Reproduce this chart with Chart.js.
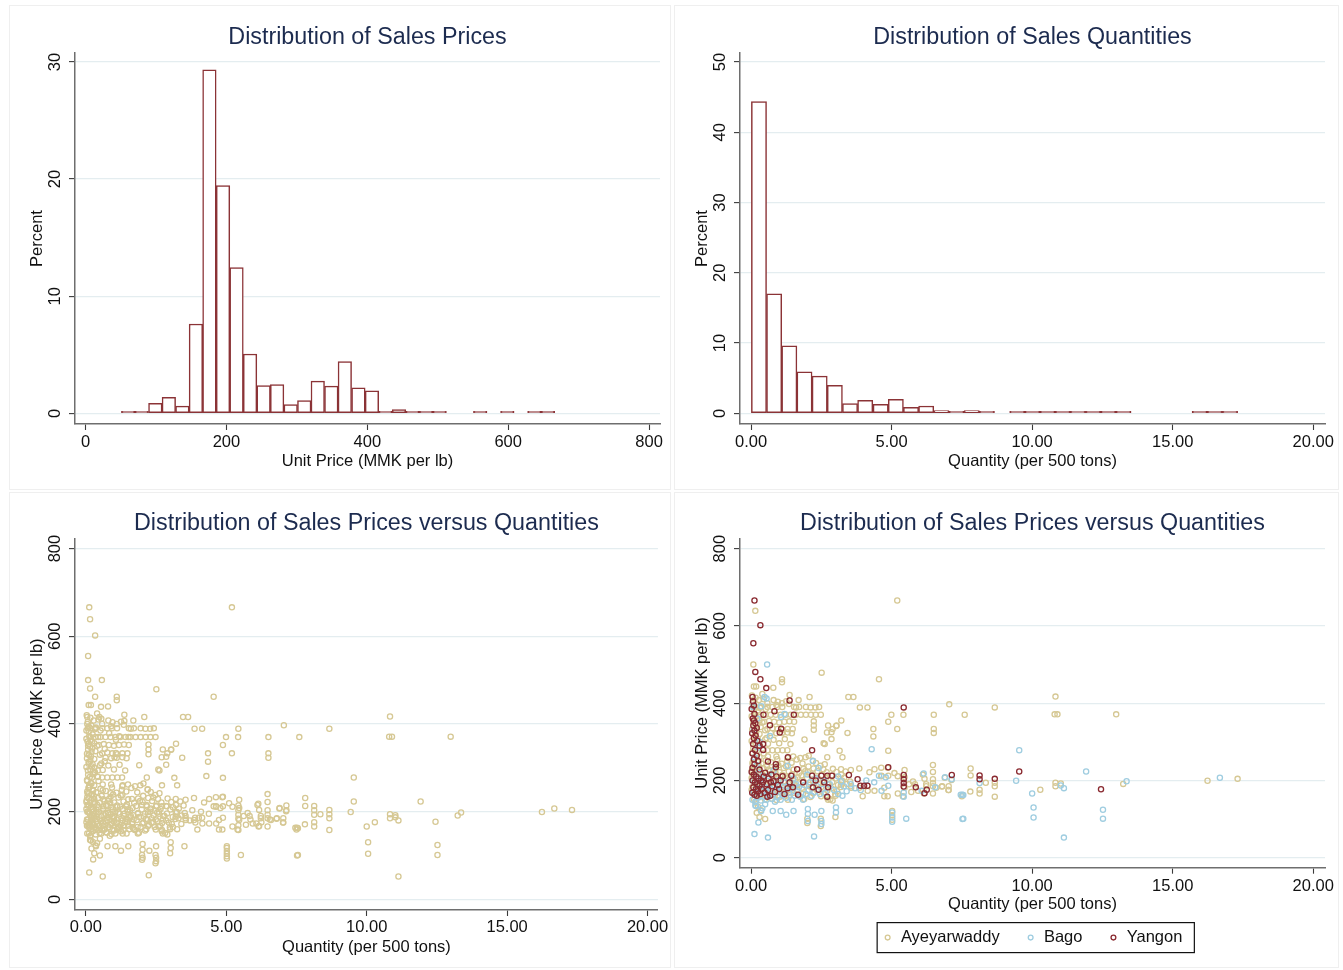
<!DOCTYPE html>
<html>
<head>
<meta charset="utf-8">
<title>Sales prices and quantities</title>
<script src="https://cdn.jsdelivr.net/npm/chart.js@4.4.0/dist/chart.umd.min.js"></script>
<style>
  body { margin: 0; background: #fff; width: 1343px; height: 970px; position: relative; overflow: hidden; }
  .frame { position: absolute; border: 1px solid #efefef; box-sizing: border-box; }
  canvas { position: absolute; }
</style>
</head>
<body>
<div class="frame" style="left:9px;top:5px;width:662px;height:485px"></div>
<div class="frame" style="left:674px;top:5px;width:665px;height:485px"></div>
<div class="frame" style="left:9px;top:492px;width:662px;height:476px"></div>
<div class="frame" style="left:674px;top:492px;width:665px;height:476px"></div>
<canvas id="c1" width="661" height="484" style="left:9px;top:5px;width:661px;height:484px"></canvas>
<canvas id="c2" width="664" height="484" style="left:674px;top:5px;width:664px;height:484px"></canvas>
<canvas id="c3" width="661" height="476" style="left:9px;top:492px;width:661px;height:476px"></canvas>
<canvas id="c4" width="664" height="476" style="left:674px;top:492px;width:664px;height:476px"></canvas>
<script>
/* ── Data ──────────────────────────────────────────────── */
// histogram of unit price: bin centres (MMK per lb) and percent of sales
const priceBins = [60.6, 79.8, 99.1, 118.3, 137.5, 156.7, 175.9, 195.2, 214.4, 233.6, 252.8, 272.0, 291.3, 310.5, 329.7, 348.9,
    368.1, 387.4, 406.6, 425.8, 445.0, 464.2, 483.5, 502.7, 521.9, 541.1, 560.3, 579.6, 598.8, 618.0, 637.2, 656.4];
const pricePct = [0.12, 0.05, 0.85, 1.37, 0.62, 7.63, 29.32, 19.44, 12.44, 5.07, 2.37, 2.45, 0.75, 1.1, 2.75, 2.33,
    4.41, 2.17, 1.92, 0.03, 0.33, 0.15, 0.04, 0.04, null, null, 0.1, null, 0.1, null, 0.1, 0.05];

// histogram of quantity: bin centres (per 500 tons) and percent of sales
const qtyBins = [0.28, 0.82, 1.36, 1.90, 2.44, 2.98, 3.52, 4.06, 4.61, 5.15, 5.69, 6.23, 6.77, 7.31, 7.85, 8.39,
    8.93, 9.47, 10.01, 10.55, 11.09, 11.63, 12.17, 12.71, 13.25, 13.80, 14.34, 14.88, 15.42, 15.96, 16.50, 17.04];
const qtyPct = [44.35, 17.0, 9.6, 5.9, 5.3, 4.0, 1.37, 1.85, 1.28, 2.0, 0.85, 1.04, 0.38, 0.19, 0.38, 0.24,
    null, 0.05, 0.14, 0.19, 0.14, 0.05, 0.05, 0.05, 0.1, null, null, null, null, 0.05, 0.05, 0.05];

const priceTicks = [0, 200, 400, 600, 800];
const qtyTicks = [0, 5, 10, 15, 20];
const pricePctTicks = [0, 10, 20, 30];
const qtyPctTicks = [0, 10, 20, 30, 40, 50];

const regions = ['Ayeyarwaddy', 'Bago', 'Yangon'];

// [quantity, unit price] per sale
const ayeyarwaddyPts = [
    [0.15,639],[5.2,666],[0.08,500],[2.51,479],[4.55,462],[1.1,462],[1.1,454],[0.79,440],[0.1,443],[0.18,443],
    [0.4,424],[1.37,421],[1.69,408],[2.08,416],[3.46,416],[3.64,416],[3.87,389],[4.14,389],[4.99,370],[5.42,370],
    [6.5,370],[7.6,370],[7.05,397],[4.88,352],[4.35,333],[4.35,314],[5.2,333],[6.5,333],[6.5,323],[3.43,323],
    [2.74,342],[2.86,325],[3.04,342],[3.21,355],[2.62,294],[2.86,307],[1.9,306],[2.23,342],[2.23,331],[2.23,353],
    [3.15,277],[3.25,260],[2.71,260],[4.88,277],[1.94,260],[2.2,251],[2.58,296],[2.7,324],[2.9,333],[3.03,341],
    [3.2,229],[3.55,227],[3.85,231],[4.21,221],[4.39,229],[4.63,233],[4.86,233],[4.63,211],[5.1,219],[5.22,211],
    [5.46,227],[5.46,208],[5.76,197],[6.11,215],[6.17,204],[3.2,189],[3.55,185],[3.85,181],[4.15,173],[4.39,173],
    [4.74,181],[4.86,159],[5.22,166],[5.46,181],[5.7,170],[5.94,173],[6.15,166],[3.97,159],[4.74,159],[5.4,159],
    [2.7,155],[2.82,151],[5.62,190],[5.83,190],[6.23,190],[6.79,184],[7.02,175],[4.64,212],[4.88,212],
    [0.16,143],[0.25,131],[0.35,123],[0.2,116],[0.3,105],[0.5,100],[2.0,101],[2.48,101],[2.48,82],[3.0,105],
    [2.0,90],[5.02,121],[5.02,110],[5.02,98],[3.0,160],[2.9,148],
    [6.47,240],[6.47,222],[6.47,203],[6.47,193],[6.47,185],[6.47,166],[6.23,185],[6.59,181],[6.8,185],[6.89,207],
    [7.13,201],[7.03,185],[7.03,175],[7.5,159],[7.81,231],[7.81,213],[7.8,171],[8.13,176],[8.13,166],[8.35,194],
    [8.67,194],[8.67,185],[8.67,158],[8.67,389],[10.29,176],[10.83,417],[10.8,371],[10.9,371],[12.99,371],[10.83,194],
    [10.83,185],[11.02,192],[13.24,191],[16.24,199],[17.31,204],
    [0.03,420],[0.16,414],[0.28,408],[0.05,400],[0.2,396],[0.32,388],[0.1,382],[0.24,376],[0.02,366],[0.16,362],
    [0.3,356],[0.08,350],[0.22,344],[0.34,338],[0.04,332],[0.18,326],[0.3,320],[0.1,314],[0.24,308],[0.02,302],
    [0.16,296],[0.32,290],[0.08,284],[0.22,278],[0.04,272],[0.18,266],[0.3,260],[0.1,254],[0.26,248],[0.06,242],
    [0.45,410],[0.58,400],[0.52,385],[0.4,350],[0.5,330],[0.55,310],[0.45,270],[0.6,262],
    [0.16,390],[0.34,390],[0.58,390],[0.76,390],[0.93,390],[1.11,390],[1.53,390],[1.6,389],[1.71,390],[1.95,390],
    [2.12,389],[2.29,389],[2.42,390],[0.16,370],[0.34,370],[0.52,370],[0.7,370],[0.88,370],[1.05,370],[1.23,370],
    [1.41,370],[1.59,370],[1.77,370],[1.95,370],[2.13,370],[2.3,370],[2.48,370],
    [0.46,352],[0.64,354],[0.82,352],[1.0,350],[1.18,352],[1.36,353],[1.53,352],[0.58,333],[0.76,335],[0.94,333],
    [1.12,331],[1.3,333],[1.48,333],[0.7,323],[0.9,322],[1.1,323],[1.3,324],[1.45,322],[0.5,306],[0.8,305],
    [1.2,307],[0.6,295],[1.0,296],[1.4,294],[0.58,278],[0.76,278],[0.94,278],[1.12,278],[1.29,278],[0.9,262],
    [1.3,258],[1.5,262],[1.75,258],[2.05,264],[0.8,408],[0.95,404],[1.1,400],[1.25,405],[1.35,398],[0.9,395],
    [0.12,256],[0.52,252],[0.93,255],[1.28,250],[1.62,254],
    [0.05,246],[0.37,244],[0.71,247],[1.09,243],[1.44,246],[1.83,244],[2.31,245],[2.62,242],
    [0.21,238],[0.56,236],[0.97,239],[1.24,237],[2.04,236],[2.47,238],
    [0.1,230],[0.44,231],[0.82,229],[1.16,232],[1.51,228],[1.86,230],[2.22,231],[2.57,229],[2.91,230],
    [0.31,222],[0.66,224],[1.01,221],[1.34,223],[1.72,220],[2.02,222],[2.36,224],[2.69,221],[3.04,222],[3.36,223],
    [0.06,214],[0.41,215],[0.77,213],[1.11,214],[1.46,216],[1.79,213],[2.16,215],[2.52,214],[2.86,213],[3.21,215],
    [0.24,206],[0.61,207],[0.96,205],[1.31,206],[1.66,208],[1.99,205],[2.31,207],[2.66,206],[3.01,205],[3.31,207],
    [0.11,198],[0.46,199],[0.79,197],[1.16,198],[1.49,200],[1.86,197],[2.21,199],[2.54,198],[2.89,196],[3.24,199],[3.52,197],
    [0.29,190],[0.66,191],[1.01,189],[1.36,190],[1.69,192],[2.06,189],[2.41,191],[2.76,190],[3.09,188],[3.41,191],
    [0.04,182],[0.39,183],[0.76,181],[1.09,182],[1.44,184],[1.81,181],[2.14,183],[2.49,182],[2.86,180],[3.19,183],[3.56,181],
    [0.26,174],[0.61,175],[0.94,173],[1.29,174],[1.66,176],[2.01,173],[2.34,175],[2.71,174],[3.06,172],
    [0.09,166],[0.46,167],[0.81,165],[1.14,166],[1.51,168],[1.84,165],[2.21,167],[2.59,166],[2.99,164],
    [0.31,158],[0.64,159],[1.01,157],[1.34,158],[1.71,160],[2.11,157],[2.49,159],
    [0.11,150],[0.49,151],[0.91,149],[1.31,150],[1.89,152],[2.74,150],
    [0.28,236],[0.62,228],[0.87,219],[1.22,211],[1.57,203],[1.93,224],[0.18,186],[0.53,178],[0.88,194],[1.23,169],
    [1.58,187],[0.36,161],[0.72,153],[1.12,160],[1.47,176],[0.02,176],[0.02,206],[0.03,226],[0.15,220],[0.14,170]
];

const bagoPts = [
    [0.57,500],[0.48,416],[0.55,412],[0.07,390],[0.36,392],[1.19,372],[1.07,364],[0.67,315],[4.29,281],
    [0.22,360],[0.1,330],[0.3,300],[0.25,285],[0.12,260],[0.2,240],[0.8,225],[1.3,238],[2.2,250],[2.4,232],
    [0.08,200],[0.18,210],[0.28,220],[0.38,205],[0.62,212],[0.95,200],[1.5,205],[2.0,215],[2.3,205],[2.6,200],
    [0.1,170],[0.2,180],[0.3,190],[0.4,172],[0.5,182],[0.6,168],[0.7,178],[0.8,188],[0.9,172],[1.0,185],
    [1.1,175],[1.2,195],[1.3,185],[1.4,178],[1.6,190],[1.7,182],[1.9,188],[2.1,195],
    [0.05,150],[0.15,145],[0.25,155],[0.35,148],[0.45,158],[0.55,150],[0.65,160],[0.75,152],[0.85,145],
    [0.95,158],[1.05,150],[1.15,162],[1.25,155],[1.35,168],[1.45,150],[1.55,160],[1.65,172],[1.75,158],
    [1.85,150],[1.95,165],[2.05,175],[2.15,160],[2.25,170],[2.35,185],[2.45,165],[2.55,178],[2.65,168],
    [2.8,190],[2.95,175],[3.1,165],[3.2,198],[3.3,185],[3.4,172],[3.55,190],[3.7,180],[3.1,210],[3.25,160],
    [0.15,135],[0.4,128],[0.5,138],
    [0.18,134],[0.36,121],[0.77,121],[1.05,121],[1.25,111],[1.51,121],[2.02,126],[2.02,113],[2.02,95],
    [2.26,111],[2.5,121],[2.5,95],[2.5,87],[3.02,130],[3.02,117],[3.51,121],[0.26,91],[0.12,61],[0.6,52],[2.24,55],
    [4.55,212],[4.79,208],[4.38,195],[4.64,173],[4.88,186],[4.1,200],[3.9,175],
    [5.02,117],[5.02,104],[5.02,93],[5.52,101],[5.43,169],[5.43,158],[6.14,218],[6.07,173],[6.55,182],
    [6.9,208],[7.14,203],[7.46,163],[7.52,163],[7.52,100],
    [7.55,162],[7.55,101],[8.13,193],[9.43,199],[9.54,278],[10.0,166],[10.05,130],[10.05,104],
    [11.02,187],[11.13,180],[11.13,52],[11.92,223],[12.52,124],[12.52,101],[13.36,198],[16.68,207]
];

const yangonPts = [
    [0.12,666],[0.33,602],[0.08,555],[0.15,481],[0.33,462],[0.54,439],[1.37,407],[1.52,370],
    [0.44,370],[0.83,379],[0.67,343],[1.07,334],[1.02,324],[1.31,260],[2.17,278],[4.88,234],[5.43,389],
    [0.05,416],[0.07,405],[0.1,394],[0.02,385],[0.12,372],[0.06,360],[0.1,355],[0.15,348],[0.08,342],
    [0.2,336],[0.12,329],[0.04,322],[0.16,316],[0.1,309],[0.22,303],[0.07,294],[0.3,290],[0.14,279],
    [0.43,294],[0.43,279],[0.05,270],[0.2,264],[0.1,255],[0.25,250],[0.12,242],[0.6,249],[0.88,242],
    [0.88,234],[0.05,233],[0.3,228],
    [0.02,222],[0.1,215],[0.18,210],[0.26,205],[0.05,200],[0.14,195],[0.22,190],[0.3,186],[0.08,182],
    [0.17,177],[0.25,172],[0.04,168],[0.12,163],[0.2,160],[0.33,165],[0.38,178],[0.42,195],[0.45,210],
    [0.5,220],[0.55,190],[0.6,175],[0.62,205],[0.68,160],[0.72,215],[0.75,185],[0.8,198],[0.85,170],
    [0.9,210],[0.95,188],[1.0,178],[1.05,200],[1.12,211],[0.36,200],[0.48,168],[0.58,158],[0.7,195],
    [1.19,165],[1.43,212],[1.37,195],[1.49,182],[1.64,229],[1.67,163],[1.85,195],[2.17,212],[2.2,182],
    [2.4,176],[2.5,212],[2.71,212],[2.74,182],[2.71,158],[2.88,212],[2.3,200],[2.6,195],[1.3,180],
    [3.48,214],[3.79,203],[3.89,186],[4.02,186],[4.14,186],[5.43,214],[5.43,203],[5.43,193],[5.43,184],
    [5.86,182],[6.17,167],[6.25,176],[7.14,214],[8.13,213],[8.13,203],[8.67,204],[9.54,223],[12.45,177]
];

/* ── Styles ────────────────────────────────────────────── */
Chart.defaults.font.family = '"Liberation Sans", Arial, Helvetica, sans-serif';
Chart.defaults.color = '#111';

const TITLE_NAVY = '#1c2b4f';
const GRID = '#e4edf0';
const AXIS = '#6e6e6e';
const TICK = '#3a3a3a';
const BAR_LINE = '#8b3336';
const REGION_COLORS = { Ayeyarwaddy: '#d6c894', Bago: '#9fcde0', Yangon: '#8a2a30' };

const toXY = pts => pts.map(([x, y]) => ({ x, y }));
const fixedTicks = values => scale => { scale.ticks = values.map(v => ({ value: v })); };
const twoDp = v => v.toFixed(2);

function titleOpts(text, top, bottom) {
    return { display: true, text, color: TITLE_NAVY, fullSize: false,
        font: { size: 23.3, weight: 'normal' }, padding: { top, bottom } };
}

function xAxis({ min, max, ticks, fmt, title, height, labelPad, titlePad }) {
    return {
        type: 'linear', min, max, offset: false,
        afterBuildTicks: fixedTicks(ticks),
        afterFit: s => { s.height = height; },
        grid: { drawOnChartArea: false, offset: false, tickLength: 6, tickColor: TICK, tickWidth: 1.1 },
        border: { color: AXIS, width: 1.5 },
        ticks: { padding: labelPad, font: { size: 16.5 }, maxRotation: 0, autoSkip: false, callback: fmt },
        title: { display: true, text: title, font: { size: 16.5 }, padding: { top: 0, bottom: titlePad } },
    };
}

function yAxis({ min, max, ticks, title, labelPad }) {
    return {
        type: 'linear', min, max,
        afterBuildTicks: fixedTicks(ticks),
        afterFit: s => { s.width = 66; },
        grid: { color: GRID, lineWidth: 1.2, tickLength: 6, tickColor: TICK, tickWidth: 1.1 },
        border: { color: AXIS, width: 1.5 },
        ticks: { padding: labelPad, font: { size: 16.5 }, minRotation: 90, maxRotation: 90,
            crossAlign: 'center', autoSkip: false },
        title: { display: true, text: title, font: { size: 16.5 }, padding: { top: 18.1, bottom: 0 } },
    };
}

function histDataset(bins, pct) {
    return {
        data: bins.map((x, i) => ({ x, y: pct[i] })),
        backgroundColor: '#fff', borderColor: BAR_LINE, borderWidth: 1.5, borderSkipped: false,
        barPercentage: 1, categoryPercentage: 1, minBarLength: 2,
    };
}

function scatterDataset(label, pts, color, order) {
    return {
        label, data: toXY(pts), order,
        pointStyle: 'circle', pointRadius: 2.6, pointHoverRadius: 2.6, borderWidth: 1.3,
        borderColor: color, backgroundColor: 'rgba(0,0,0,0)',
    };
}

const baseOpts = (right, bottom) => ({
    responsive: false, animation: false,
    layout: { padding: { left: 0, top: 0, right, bottom } },
});

// box round the legend, as in the original figure
const legendFrame = {
    id: 'legendFrame',
    afterDraw(chart) {
        const lg = chart.legend;
        if (!lg || !lg.options.display || !lg.legendHitBoxes.length) return;
        const boxes = lg.legendHitBoxes;
        const first = boxes[0], last = boxes[boxes.length - 1];
        const cy = first.top + first.height / 2;
        const ctx = chart.ctx;
        ctx.save();
        ctx.strokeStyle = '#111';
        ctx.lineWidth = 1.2;
        ctx.strokeRect(first.left - 5.5, cy - 15, last.left + last.width - first.left + 17.5, 30);
        ctx.restore();
    }
};

/* ── Top left: price histogram ─────────────────────────── */
new Chart(document.getElementById('c1'), {
    type: 'bar',
    data: { datasets: [histDataset(priceBins, pricePct)] },
    options: {
        ...baseOpts(10, 0),
        plugins: { legend: { display: false }, tooltip: { enabled: false },
            title: titleOpts('Distribution of Sales Prices', 18.2, 1.8) },
        scales: {
            x: xAxis({ min: -14.9, max: 815.5, ticks: priceTicks, title: 'Unit Price (MMK per lb)',
                height: 65, labelPad: 2.6, titlePad: 17.2 }),
            y: yAxis({ min: -0.91, max: 30.77, ticks: pricePctTicks, title: 'Percent', labelPad: 4.8 }),
        }
    }
});

/* ── Top right: quantity histogram ─────────────────────── */
new Chart(document.getElementById('c2'), {
    type: 'bar',
    data: { datasets: [histDataset(qtyBins, qtyPct)] },
    options: {
        ...baseOpts(13, 0),
        plugins: { legend: { display: false }, tooltip: { enabled: false },
            title: titleOpts('Distribution of Sales Quantities', 18.2, 1.8) },
        scales: {
            x: xAxis({ min: -0.395, max: 20.42, ticks: qtyTicks, fmt: twoDp, title: 'Quantity (per 500 tons)',
                height: 65, labelPad: 2.6, titlePad: 17.2 }),
            y: yAxis({ min: -1.52, max: 51.28, ticks: qtyPctTicks, title: 'Percent', labelPad: 4.8 }),
        }
    }
});

/* ── Bottom left: all sales pooled ─────────────────────── */
new Chart(document.getElementById('c3'), {
    type: 'scatter',
    data: { datasets: [scatterDataset('All', [...ayeyarwaddyPts, ...bagoPts, ...yangonPts], REGION_COLORS.Ayeyarwaddy, 1)] },
    options: {
        ...baseOpts(10, 0),
        plugins: { legend: { display: false }, tooltip: { enabled: false },
            title: titleOpts('Distribution of Sales Prices versus Quantities', 17.7, 0.6) },
        scales: {
            x: xAxis({ min: -0.387, max: 20.37, ticks: qtyTicks, fmt: twoDp, title: 'Quantity (per 500 tons)',
                height: 58, labelPad: 1.6, titlePad: 10.7 }),
            y: yAxis({ min: -24.4, max: 823.6, ticks: priceTicks, title: 'Unit Price (MMK per lb)', labelPad: 0.25 }),
        }
    }
});

/* ── Bottom right: sales by region ─────────────────────── */
new Chart(document.getElementById('c4'), {
    type: 'scatter',
    data: {
        datasets: [
            scatterDataset(regions[0], ayeyarwaddyPts, REGION_COLORS.Ayeyarwaddy, 3),
            scatterDataset(regions[1], bagoPts, REGION_COLORS.Bago, 2),
            scatterDataset(regions[2], yangonPts, REGION_COLORS.Yangon, 1),
        ]
    },
    options: {
        ...baseOpts(13, 12.15),
        plugins: {
            tooltip: { enabled: false },
            title: titleOpts('Distribution of Sales Prices versus Quantities', 17.7, 0.6),
            legend: {
                display: true, position: 'bottom', fullSize: false,
                labels: { usePointStyle: true, boxWidth: 10, boxHeight: 3.4, padding: 26,
                    font: { size: 16.5 }, color: '#111',
                    sort: (a, b) => a.datasetIndex - b.datasetIndex },
            },
        },
        scales: {
            x: xAxis({ min: -0.395, max: 20.42, ticks: qtyTicks, fmt: twoDp, title: 'Quantity (per 500 tons)',
                height: 35.65, labelPad: 2.7, titlePad: -11.45 }),
            y: yAxis({ min: -26, max: 827, ticks: priceTicks, title: 'Unit Price (MMK per lb)', labelPad: 0.25 }),
        }
    },
    plugins: [legendFrame]
});
</script>
</body>
</html>
